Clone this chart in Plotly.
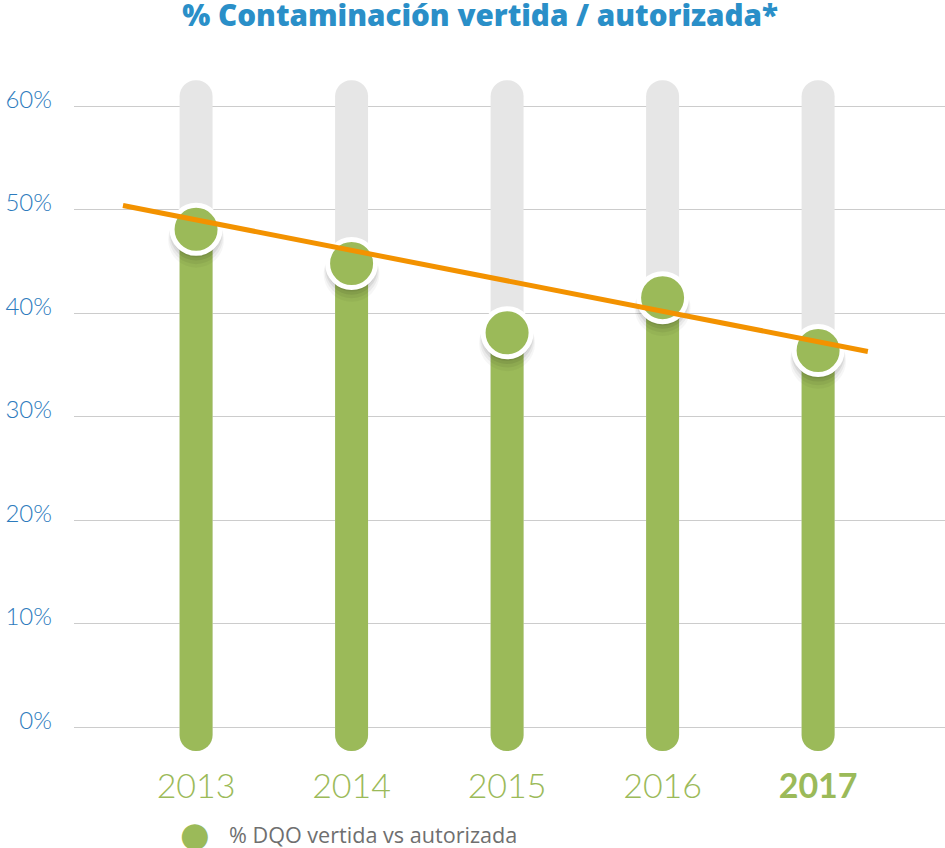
import plotly.graph_objects as go

years = [2013, 2014, 2015, 2016, 2017]
year_labels = ["2013", "2014", "2015", "2016", "<b>2017</b>"]
dqo_pct = [48.1, 44.8, 38.1, 41.5, 36.4]
track_top = 62.5
track_bottom = -2.3
trend_x = [2012.53, 2017.32]
trend_y = [50.4, 36.3]
y_ticks = [0, 10, 20, 30, 40, 50, 60]
y_tick_labels = ["0%", "10%", "20%", "30%", "40%", "50%", "60%"]
legend_label = "% DQO vertida vs autorizada"
title_text = "% Contaminación vertida / autorizada*"

GREEN = "#9BBA59"
GRAY = "#E6E6E6"
ORANGE = "#F39200"
BLUE = "#2D7BBD"
BAR_W = 0.212

fig = go.Figure()

# gray background track (rounded top)
fig.add_trace(go.Bar(x=years, y=[track_top - track_bottom] * len(years),
                     base=[track_bottom] * len(years), width=BAR_W,
                     marker=dict(color=GRAY, cornerradius="50%", line_width=0),
                     hoverinfo="skip", showlegend=False))
# green value bar drawn downward from the value so the bottom end is rounded
fig.add_trace(go.Bar(x=years, y=[track_bottom - v for v in dqo_pct],
                     base=dqo_pct, width=BAR_W,
                     marker=dict(color=GREEN, cornerradius="50%", line_width=0),
                     hoverinfo="skip", showlegend=False))

# soft shadows under the circles
for off, size, alpha in [(1.0, 56, 0.035), (0.75, 54, 0.05), (0.5, 52, 0.07), (0.3, 50, 0.08)]:
    fig.add_trace(go.Scatter(x=years, y=[v - off for v in dqo_pct], mode="markers",
                             marker=dict(size=size, color=f"rgba(0,0,0,{alpha})", line_width=0),
                             hoverinfo="skip", showlegend=False))

# value circles
fig.add_trace(go.Scatter(x=years, y=dqo_pct, mode="markers",
                         marker=dict(size=48, color=GREEN, line=dict(color="white", width=5)),
                         name=legend_label, showlegend=False))

# trend line
fig.add_trace(go.Scatter(x=trend_x, y=trend_y, mode="lines",
                         line=dict(color=ORANGE, width=5),
                         hoverinfo="skip", showlegend=False))

fig.update_layout(
    width=945, height=848,
    margin=dict(l=74, r=0, t=70, b=95),
    paper_bgcolor="white", plot_bgcolor="white",
    barmode="overlay",
    title=dict(text=title_text, x=0.508, xref="container", xanchor="center",
               y=0.982, yref="container", yanchor="middle",
               font=dict(family="Open Sans", size=29.6, color="#2A8FC8", weight=800)),
    xaxis=dict(range=[2012.215, 2017.816], tickvals=years, ticktext=year_labels,
               showgrid=False, zeroline=False, showline=False, ticks="",
               tickfont=dict(family="Lato", size=34, color=GREEN, weight=300),
               ticklabelstandoff=10),
    yaxis=dict(range=[-2.5, 63.5], tickvals=y_ticks, ticktext=y_tick_labels,
               showgrid=True, gridcolor="#CCCCCC", gridwidth=1,
               zeroline=False, showline=False, ticks="",
               tickfont=dict(family="Lato", size=24, color=BLUE, weight=300),
               ticklabelstandoff=21, ticklabelshift=-7),
    showlegend=False,
)

# legend (marker + label)
fig.add_annotation(text="●", xref="paper", yref="paper", x=(195 - 74) / 871, y=-0.119,
                   xanchor="center", yanchor="middle", showarrow=False,
                   font=dict(family="DejaVu Sans", size=34, color=GREEN))
fig.add_annotation(text=legend_label, xref="paper", yref="paper", x=(227 - 74) / 871, y=-0.119,
                   xanchor="left", yanchor="middle", showarrow=False,
                   font=dict(family="Open Sans", size=21.6, color="#6F6F6F"))

fig.write_html("out.html", config={"displayModeBar": False},
               post_script="document.body.style.margin='0px';")
